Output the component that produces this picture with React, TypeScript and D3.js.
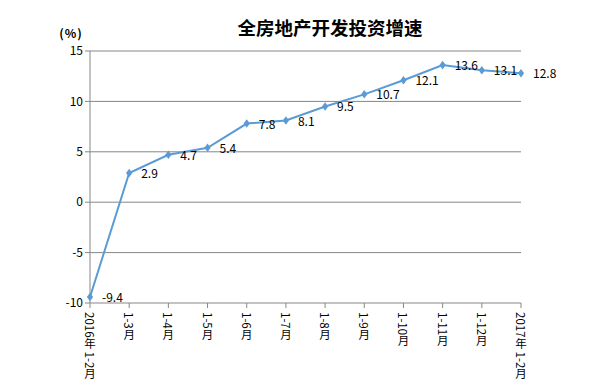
import React from 'react';
import * as d3 from 'd3';

const categories = ['2016年 1-2月', '1-3月', '1-4月', '1-5月', '1-6月', '1-7月', '1-8月', '1-9月', '1-10月', '1-11月', '1-12月', '2017年 1-2月'];
const values = [-9.4, 2.9, 4.7, 5.4, 7.8, 8.1, 9.5, 10.7, 12.1, 13.6, 13.1, 12.8];
const yTicks = [-10, -5, 0, 5, 10, 15];

const W = 604;
const H = 392;
const left = 90;
const right = 521;
const top = 51;
const bottom = 303;
const lineColor = '#5B9BD5';
const gridColor = '#878787';
const font = '"Noto Sans CJK SC", "Noto Sans", sans-serif';

export default function App() {
    const x = d3.scalePoint<string>().domain(categories).range([left, right]);
    const y = d3.scaleLinear().domain([-10, 15]).range([bottom, top]);

    const line = d3.line<number>()
        .x((_d: number, i: number) => x(categories[i]) as number)
        .y((d: number) => y(d));

    const diamond = d3.symbol().type(d3.symbolDiamond).size(26)();

    return (
        <svg width={W} height={H} style={{ position: 'absolute', left: 0, top: 0 }} fontFamily={font}>
            <rect width={W} height={H} fill="#fff" />
            {/* title */}
            <text x={330} y={35} textAnchor="middle" fontSize={18.5} fontWeight="bold" fill="#000">全房地产开发投资增速</text>
            <text x={71} y={38} textAnchor="middle" fontSize={12} fontWeight="bold" fill="#000" letterSpacing={1}>(%)</text>

            {/* gridlines + y axis */}
            {yTicks.map(t => (
                <g key={t}>
                    <line x1={left - 5} x2={right} y1={y(t)} y2={y(t)} stroke={gridColor} strokeWidth={1} />
                    <text x={83} y={y(t)} dy="0.35em" textAnchor="end" fontSize={12} fill="#000">{t}</text>
                </g>
            ))}
            <line x1={left} x2={left} y1={top} y2={bottom} stroke={gridColor} strokeWidth={1} />

            {/* x ticks and labels */}
            {categories.map(c => (
                <g key={c}>
                    <line x1={x(c)} x2={x(c)} y1={bottom} y2={bottom + 5} stroke={gridColor} strokeWidth={1} />
                    <text
                        x={x(c)}
                        y={bottom + 9}
                        fontSize={11.5}
                        fill="#000"
                        style={{ writingMode: 'vertical-rl', textOrientation: 'mixed' } as React.CSSProperties}
                    >{c}</text>
                </g>
            ))}

            {/* series */}
            <path d={line(values) || ''} fill="none" stroke={lineColor} strokeWidth={2} />
            {values.map((v, i) => (
                <g key={i} transform={`translate(${x(categories[i])},${y(v)})`}>
                    <path d={diamond || ''} fill={lineColor} transform="scale(1.15,0.9)" />
                    <text x={12} y={5} fontSize={12} fill="#000">{v}</text>
                </g>
            ))}
        </svg>
    );
}
